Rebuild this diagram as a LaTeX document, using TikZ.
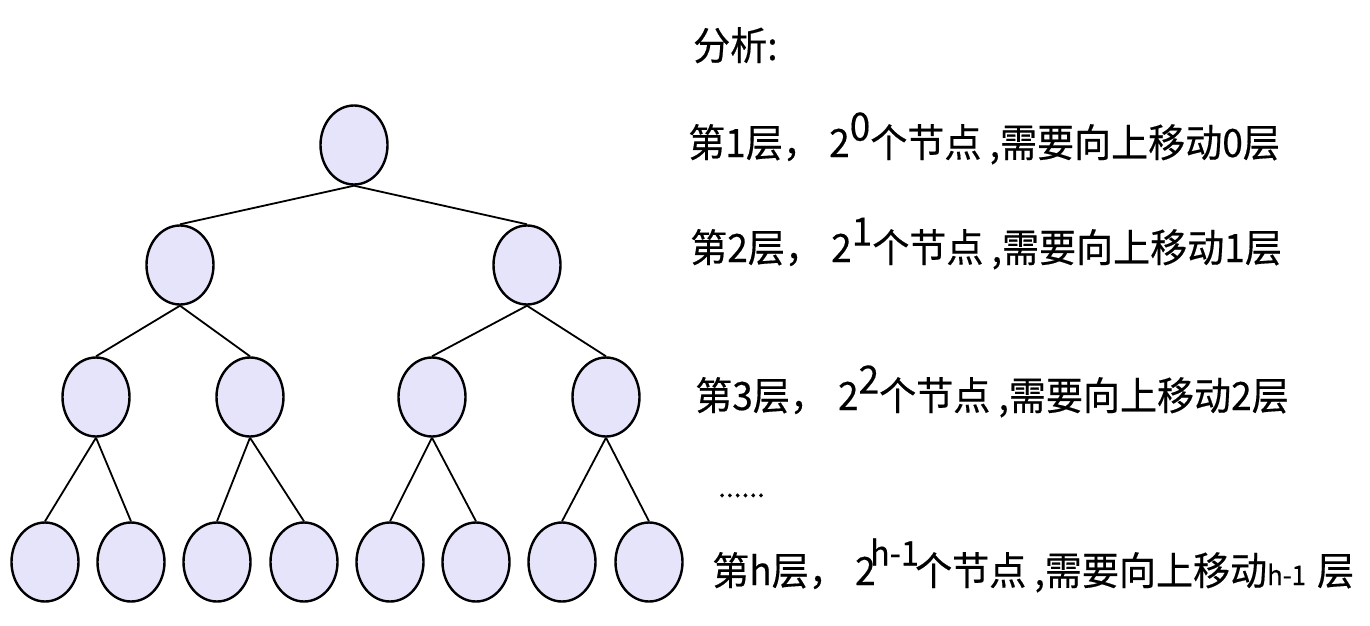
\documentclass[tikz,border=0pt]{standalone}
\usepackage{fontspec}
\setmainfont[FakeBold=0.4]{Noto Sans CJK SC}
\usetikzlibrary{shapes.geometric}
\definecolor{nodefill}{RGB}{230,228,250}
\newcommand\hsq[1]{\scalebox{0.95}[1]{#1}}
\tikzset{
  tnode/.style={ellipse, draw=black, line width=2.4pt, fill=nodefill,
    minimum width=67pt, minimum height=79pt, inner sep=0pt},
  link/.style={draw=black, line width=1.8pt},
  txt/.style={anchor=base west, inner sep=0pt, font=\fontsize{39}{41}\selectfont}
}
\begin{document}
\begin{tikzpicture}[x=1pt,y=-1pt]
\useasboundingbox (0,0) rectangle (1370,626);
% tree
\node[tnode] (r) at (354,145) {};
\node[tnode] (a1) at (180,265) {};
\node[tnode] (a2) at (527,265) {};
\node[tnode] (b1) at (96,397) {};
\node[tnode] (b2) at (250,397) {};
\node[tnode] (b3) at (432,397) {};
\node[tnode] (b4) at (606,397) {};
\node[tnode] (c1) at (45,562) {};
\node[tnode] (c2) at (131,562) {};
\node[tnode] (c3) at (217,562) {};
\node[tnode] (c4) at (304,562) {};
\node[tnode] (c5) at (390,562) {};
\node[tnode] (c6) at (476,562) {};
\node[tnode] (c7) at (562,562) {};
\node[tnode] (c8) at (649,562) {};
\path[link] (r.south) -- (a1.north) (r.south) -- (a2.north);
\path[link] (a1.south) -- (b1.north) (a1.south) -- (b2.north);
\path[link] (a2.south) -- (b3.north) (a2.south) -- (b4.north);
\path[link] (b1.south) -- (c1.north) (b1.south) -- (c2.north);
\path[link] (b2.south) -- (c3.north) (b2.south) -- (c4.north);
\path[link] (b3.south) -- (c5.north) (b3.south) -- (c6.north);
\path[link] (b4.south) -- (c7.north) (b4.south) -- (c8.north);
% text
\node[txt] (t0) at (693,60) {\hsq{分析:}};
\node[txt] (t1) at (688,157) {\hsq{第1层，\hspace{0.25em}2\raisebox{0.42em}{0}个节点 ,需要向上移动0层}};
\node[txt] (t2) at (690,262) {\hsq{第2层，\hspace{0.25em}2\raisebox{0.42em}{1}个节点 ,需要向上移动1层}};
\node[txt] (t3) at (695,410) {\hsq{第3层，\hspace{0.3em}2\raisebox{0.42em}{2}个节点 ,需要向上移动2层}};
\node[txt, font=\fontsize{28}{30}\selectfont] (t5) at (718,497) {......};
\node[txt] (t4) at (712,585) {\hsq{第h层，\hspace{0.25em}2\kern-0.15em\raisebox{0.5em}{\fontsize{34}{36}\selectfont h-1}\kern-0.1em个节点 ,需要向上移动{\fontsize{27}{28}\selectfont h-1}\hspace{0.3em}层}};
\end{tikzpicture}
\end{document}
